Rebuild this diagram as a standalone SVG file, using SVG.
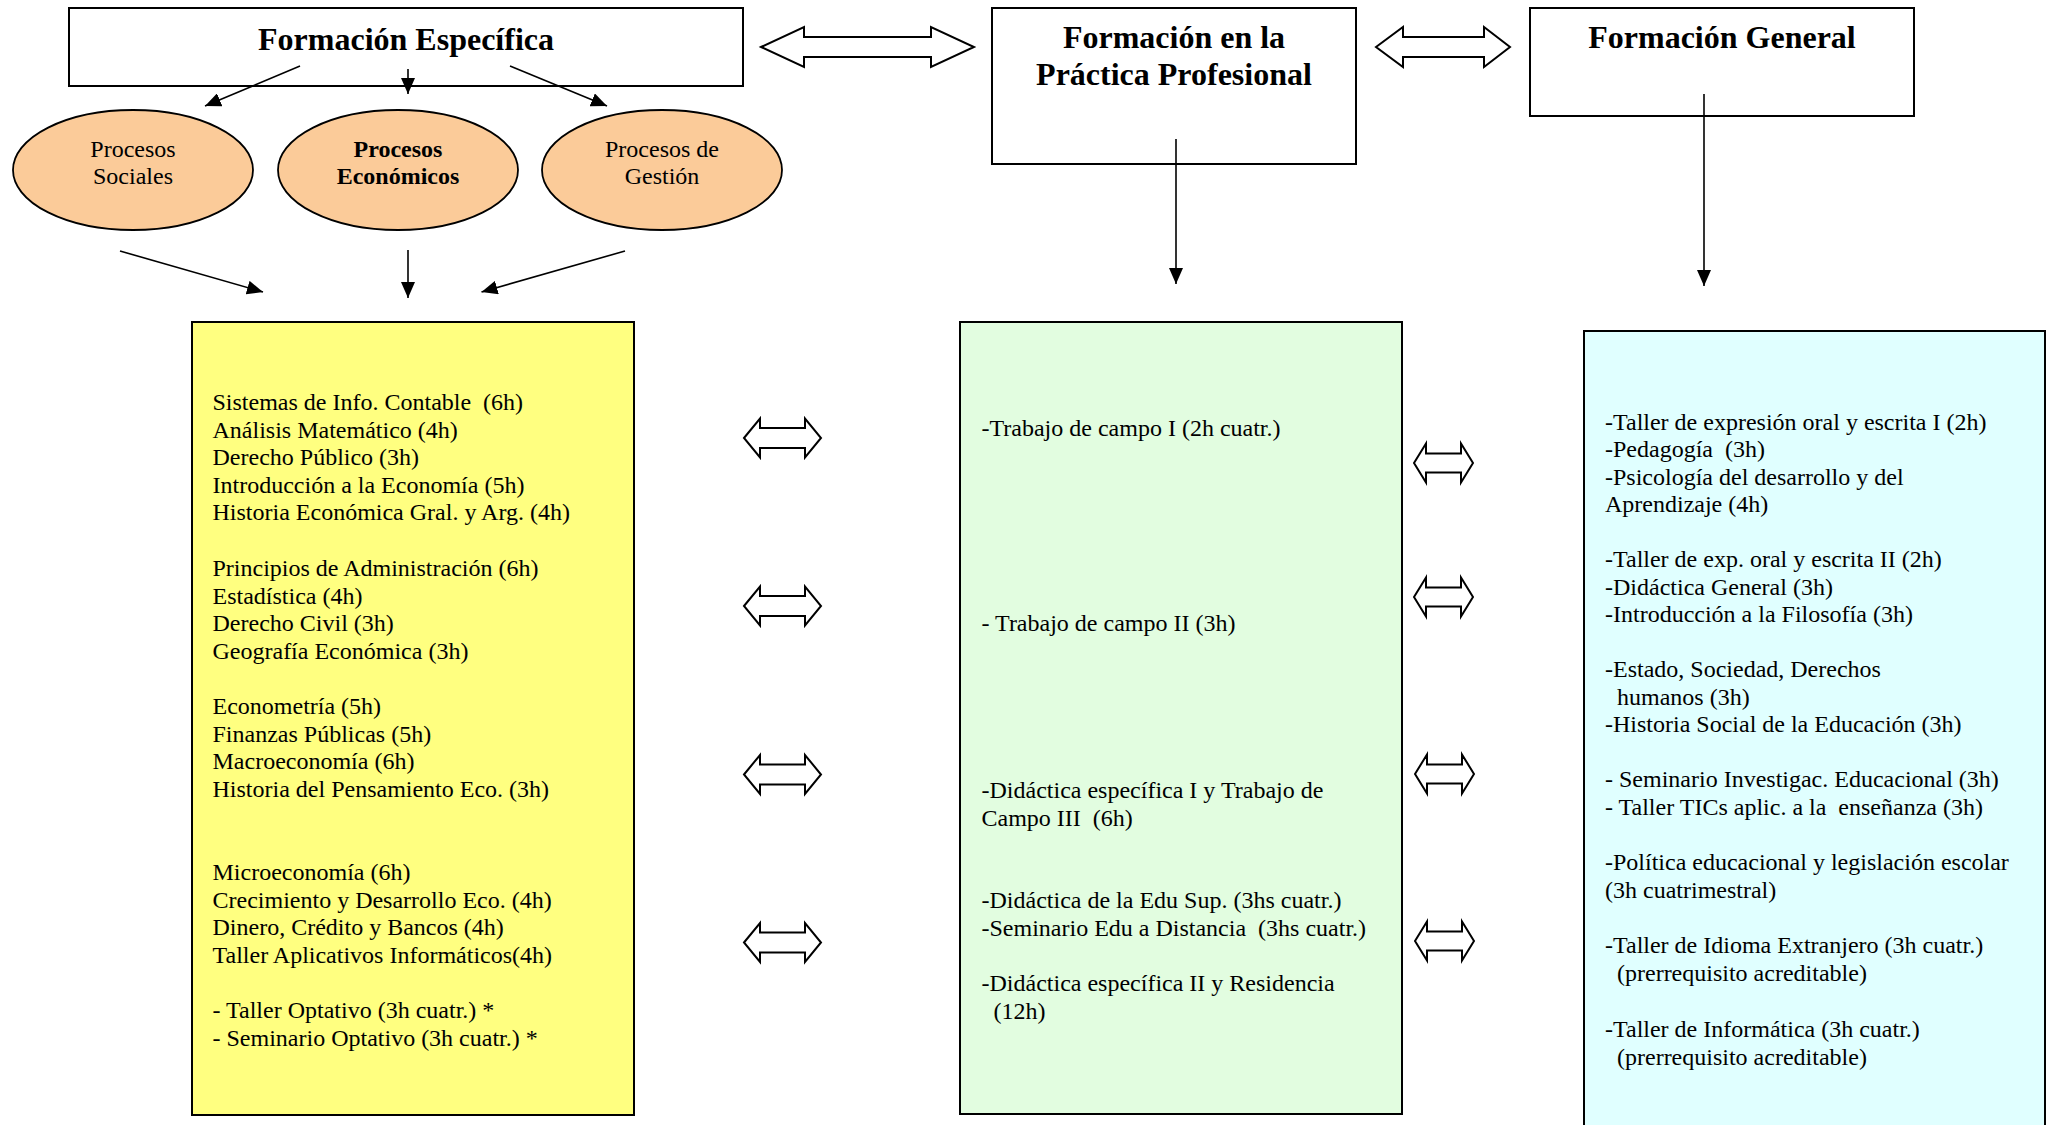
<svg xmlns="http://www.w3.org/2000/svg" width="2053" height="1125" viewBox="0 0 2053 1125">
<defs>
<marker id="ah" markerUnits="userSpaceOnUse" markerWidth="16" markerHeight="14" refX="16" refY="7" orient="auto"><path d="M0,0 L16,7 L0,14 z" fill="#000"/></marker>
<style>
.box{fill:#fff;stroke:#000;stroke-width:2}
.ell{fill:#FBCB99;stroke:#000;stroke-width:1.8}
.title{font-family:"Liberation Serif","Times New Roman",serif;font-size:32px;font-weight:bold;text-anchor:middle;fill:#000}
.et{font-family:"Liberation Serif","Times New Roman",serif;font-size:24px;text-anchor:middle;fill:#000}
.etb{font-family:"Liberation Serif","Times New Roman",serif;font-size:24px;font-weight:bold;text-anchor:middle;fill:#000}
.t{font-family:"Liberation Serif","Times New Roman",serif;font-size:24px;fill:#000;white-space:pre}
.ln{stroke:#000;stroke-width:1.6;fill:none;marker-end:url(#ah)}
.da{fill:#fff;stroke:#000;stroke-width:2;stroke-linejoin:miter}
</style>
</defs>
<rect width="2053" height="1125" fill="#fff"/>

<g id="formacion-especifica">
<rect class="box" x="69" y="8" width="674" height="78"/>
<text class="title" x="406" y="50">Formación Específica</text>
</g>
<g id="formacion-practica">
<rect class="box" x="992" y="8" width="364" height="156"/>
<text class="title" x="1174" y="48">Formación en la</text>
<text class="title" x="1174" y="85">Práctica Profesional</text>
</g>
<g id="formacion-general">
<rect class="box" x="1530" y="8" width="384" height="108"/>
<text class="title" x="1722" y="48">Formación General</text>
</g>

<g id="procesos-sociales">
<ellipse class="ell" cx="133" cy="170" rx="120" ry="60"/>
<text class="et" x="133" y="157">Procesos</text>
<text class="et" x="133" y="184">Sociales</text>
</g>
<g id="procesos-economicos">
<ellipse class="ell" cx="398" cy="170" rx="120" ry="60"/>
<text class="etb" x="398" y="157">Procesos</text>
<text class="etb" x="398" y="184">Económicos</text>
</g>
<g id="procesos-gestion">
<ellipse class="ell" cx="662" cy="170" rx="120" ry="60"/>
<text class="et" x="662" y="157">Procesos de</text>
<text class="et" x="662" y="184">Gestión</text>
</g>

<g id="especifica-materias">
<rect x="192" y="322" width="442" height="793" fill="#FFFF80" stroke="#000" stroke-width="2"/>
<text class="t" x="212.5" y="410">Sistemas de Info. Contable&#160; (6h)</text>
<text class="t" x="212.5" y="437.6">Análisis Matemático (4h)</text>
<text class="t" x="212.5" y="465.2">Derecho Público (3h)</text>
<text class="t" x="212.5" y="492.8">Introducción a la Economía (5h)</text>
<text class="t" x="212.5" y="520.4">Historia Económica Gral. y Arg. (4h)</text>
<text class="t" x="212.5" y="576">Principios de Administración (6h)</text>
<text class="t" x="212.5" y="603.6">Estadística (4h)</text>
<text class="t" x="212.5" y="631.2">Derecho Civil (3h)</text>
<text class="t" x="212.5" y="658.8">Geografía Económica (3h)</text>
<text class="t" x="212.5" y="714">Econometría (5h)</text>
<text class="t" x="212.5" y="741.6">Finanzas Públicas (5h)</text>
<text class="t" x="212.5" y="769.2">Macroeconomía (6h)</text>
<text class="t" x="212.5" y="796.8">Historia del Pensamiento Eco. (3h)</text>
<text class="t" x="212.5" y="880">Microeconomía (6h)</text>
<text class="t" x="212.5" y="907.6">Crecimiento y Desarrollo Eco. (4h)</text>
<text class="t" x="212.5" y="935.2">Dinero, Crédito y Bancos (4h)</text>
<text class="t" x="212.5" y="962.8">Taller Aplicativos Informáticos(4h)</text>
<text class="t" x="212.5" y="1017.5">- Taller Optativo (3h cuatr.) *</text>
<text class="t" x="212.5" y="1045.5">- Seminario Optativo (3h cuatr.) *</text>
</g>

<g id="practica-materias">
<rect x="960" y="322" width="442" height="792" fill="#E2FDE0" stroke="#000" stroke-width="2"/>
<text class="t" x="981.5" y="436">-Trabajo de campo I (2h cuatr.)</text>
<text class="t" x="981.5" y="631">- Trabajo de campo II (3h)</text>
<text class="t" x="981.5" y="798">-Didáctica específica I y Trabajo de</text>
<text class="t" x="981.5" y="825.5">Campo III&#160; (6h)</text>
<text class="t" x="981.5" y="908">-Didáctica de la Edu Sup. (3hs cuatr.)</text>
<text class="t" x="981.5" y="935.5">-Seminario Edu a Distancia&#160; (3hs cuatr.)</text>
<text class="t" x="981.5" y="991">-Didáctica específica II y Residencia</text>
<text class="t" x="981.5" y="1018.5">&#160;&#160;(12h)</text>
</g>

<g id="general-materias">
<rect x="1584" y="331" width="461" height="800" fill="#E0FFFF" stroke="#000" stroke-width="2"/>
<text class="t" x="1605" y="429.6">-Taller de expresión oral y escrita I (2h)</text>
<text class="t" x="1605" y="457">-Pedagogía&#160; (3h)</text>
<text class="t" x="1605" y="484.6">-Psicología del desarrollo y del</text>
<text class="t" x="1605" y="512">Aprendizaje (4h)</text>
<text class="t" x="1605" y="567">-Taller de exp. oral y escrita II (2h)</text>
<text class="t" x="1605" y="594.6">-Didáctica General (3h)</text>
<text class="t" x="1605" y="622">-Introducción a la Filosofía (3h)</text>
<text class="t" x="1605" y="677">-Estado, Sociedad, Derechos</text>
<text class="t" x="1605" y="704.5">&#160;&#160;humanos (3h)</text>
<text class="t" x="1605" y="732">-Historia Social de la Educación (3h)</text>
<text class="t" x="1605" y="787">- Seminario Investigac. Educacional (3h)</text>
<text class="t" x="1605" y="814.5">- Taller TICs aplic. a la&#160; enseñanza (3h)</text>
<text class="t" x="1605" y="869.5">-Política educacional y legislación escolar</text>
<text class="t" x="1605" y="897.5">(3h cuatrimestral)</text>
<text class="t" x="1605" y="953">-Taller de Idioma Extranjero (3h cuatr.)</text>
<text class="t" x="1605" y="981">&#160;&#160;(prerrequisito acreditable)</text>
<text class="t" x="1605" y="1037">-Taller de Informática (3h cuatr.)</text>
<text class="t" x="1605" y="1065">&#160;&#160;(prerrequisito acreditable)</text>
</g>

<g id="connectors">
<line class="ln" x1="300" y1="66" x2="205" y2="106"/>
<line class="ln" x1="408" y1="69" x2="408" y2="94"/>
<line class="ln" x1="510" y1="66" x2="607" y2="106"/>
<line class="ln" x1="120" y1="251" x2="263" y2="292"/>
<line class="ln" x1="408" y1="250" x2="408" y2="298"/>
<line class="ln" x1="625" y1="251" x2="481.5" y2="292"/>
<line class="ln" x1="1176" y1="139" x2="1176" y2="284"/>
<line class="ln" x1="1704" y1="94" x2="1704" y2="286"/>
<path class="da" d="M761,47 L804,27 L804,37 L931,37 L931,27 L974,47 L931,67 L931,57 L804,57 L804,67 Z"/>
<path class="da" d="M1376,47 L1403,27 L1403,37 L1484,37 L1484,27 L1510,47 L1484,67 L1484,57 L1403,57 L1403,67 Z"/>
<path class="da" d="M744,438 L760,418.5 L760,428 L805,428 L805,418.5 L821,438 L805,457.5 L805,448 L760,448 L760,457.5 Z"/>
<path class="da" d="M744,606 L760,586.5 L760,596 L805,596 L805,586.5 L821,606 L805,625.5 L805,616 L760,616 L760,625.5 Z"/>
<path class="da" d="M744,774.5 L760,755 L760,764.5 L805,764.5 L805,755 L821,774.5 L805,794 L805,784.5 L760,784.5 L760,794 Z"/>
<path class="da" d="M744,942.5 L760,923 L760,932.5 L805,932.5 L805,923 L821,942.5 L805,962 L805,952.5 L760,952.5 L760,962 Z"/>
<path class="da" d="M1414,463 L1426,443.5 L1426,453.5 L1461,453.5 L1461,443.5 L1473,463 L1461,482.5 L1461,472.5 L1426,472.5 L1426,482.5 Z"/>
<path class="da" d="M1414,597 L1426,577.5 L1426,587.5 L1461,587.5 L1461,577.5 L1473,597 L1461,616.5 L1461,606.5 L1426,606.5 L1426,616.5 Z"/>
<path class="da" d="M1415,774 L1427,754.5 L1427,764.5 L1462,764.5 L1462,754.5 L1474,774 L1462,793.5 L1462,783.5 L1427,783.5 L1427,793.5 Z"/>
<path class="da" d="M1415,941 L1427,921.5 L1427,931.5 L1462,931.5 L1462,921.5 L1474,941 L1462,960.5 L1462,950.5 L1427,950.5 L1427,960.5 Z"/>
</g>
</svg>
